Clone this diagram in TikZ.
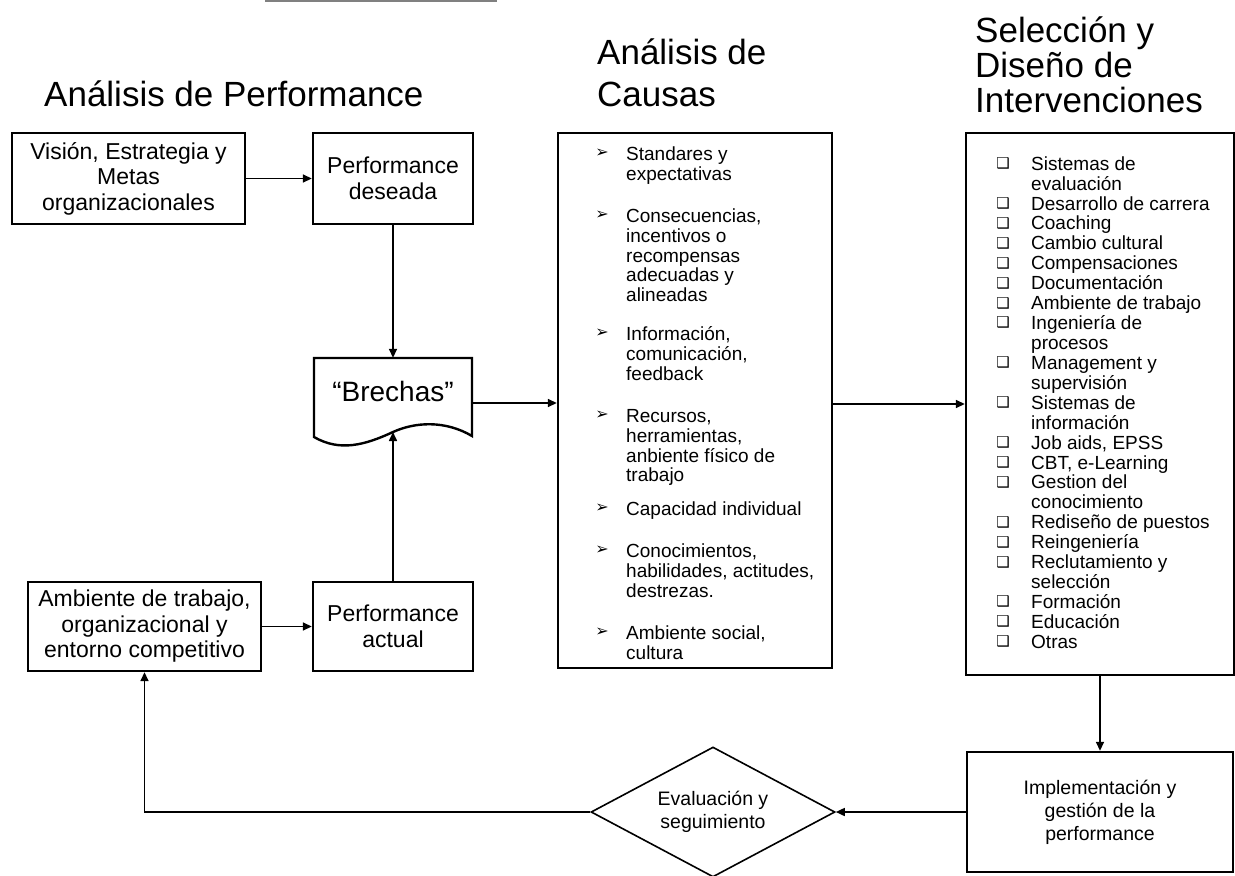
\documentclass[tikz,border=0pt]{standalone}
\usepackage{fontspec}
\setmainfont{Liberation Sans}
\newfontfamily\symfont{DejaVu Sans}
\usetikzlibrary{arrows.meta,shapes.geometric}

% struts that fix the height of the first line of a stacked text
\newcommand{\itemstrut}{\rule{0pt}{15pt}}
\newcommand{\titlestrut}{\rule{0pt}{34pt}}

\tikzset{
  box/.style={draw, line width=2.4pt, fill=white, inner sep=0pt, align=center,
              font=\fontsize{23}{25.5}\selectfont},
  title/.style={anchor=north west, align=left, inner sep=0pt,
                font=\fontsize{35}{35}\selectfont},
  conn/.style={line width=1.6pt, -{Triangle[length=9pt,width=8pt]}},
  item/.style={anchor=north west, align=left, inner sep=0pt,
               font=\fontsize{19}{19.9}\selectfont},
  arrowbullet/.style={inner sep=0pt, font=\symfont\fontsize{16}{16}\selectfont},
  checkbullet/.style={inner sep=0pt, font=\symfont\fontsize{15}{15}\selectfont},
}

\begin{document}
\begin{tikzpicture}[x=1pt,y=-1pt]
\useasboundingbox (0,0) rectangle (1235,876);

% rule along the top edge
\draw[gray, line width=1.5pt] (265,1) -- (497,1);

% column headings (first baseline = top + 34)
\node[title] (t1) at (44,72) {\titlestrut Análisis de Performance};
\node[title, font=\fontsize{35}{42}\selectfont] (t2) at (597,30) {\titlestrut Análisis de\\Causas};
\node[title] (t3) at (975,8) {\titlestrut Selección y\\Diseño de\\Intervenciones};

% performance analysis blocks
\node[box, minimum width=233pt, minimum height=91pt] (vision) at (128.5,178.5)
  {Visión, Estrategia y\\Metas\\organizacionales};
\node[box, minimum width=160pt, minimum height=91pt] (deseada) at (393,178.5)
  {Performance\\deseada};
\node[box, minimum width=233pt, minimum height=89pt] (ambiente) at (144.5,626.5)
  {Ambiente de trabajo,\\organizacional y\\entorno competitivo};
\node[box, minimum width=160pt, minimum height=89pt] (actual) at (393,626.5)
  {Performance\\actual};

% gaps: document shape with a wavy lower edge
\node[minimum width=158pt, minimum height=90pt, inner sep=0pt] (brechas) at (393,403) {};
\draw[line width=2.4pt, fill=white] (314,358) -- (472,358) -- (472,436)
  .. controls (445,420) and (415,422) .. (393,432)
  .. controls (365,445) and (340,452) .. (314,437) -- cycle;
\coordinate (wave) at (393,432);
\node[inner sep=0pt, font=\fontsize{28}{30}\selectfont] (brechastxt) at (393,391) {“Brechas”};

% causes column (y = centre of the first line)
\node[box, minimum width=274pt, minimum height=535pt] (causas) at (695,400.5) {};
\foreach \n/\y/\t in {
  c1/153/{Standares y\\expectativas},
  c2/215/{Consecuencias,\\incentivos o\\recompensas\\adecuadas y\\alineadas},
  c3/333/{Información,\\comunicación,\\feedback},
  c4/415/{Recursos,\\herramientas,\\anbiente físico de\\trabajo},
  c5/508/{Capacidad individual},
  c6/550/{Conocimientos,\\habilidades, actitudes,\\destrezas.},
  c7/632/{Ambiente social,\\cultura}} {
  \node[item] (\n) at (626,{\y-8}) {\itemstrut\t};
  \node[arrowbullet] (\n b) at (602,\y) {➢};
}

% interventions column
\node[box, minimum width=268pt, minimum height=542pt] (sel) at (1100,404) {};
\foreach \i/\t in {
  0/{Sistemas de\\evaluación},
  2/{Desarrollo de carrera},
  3/{Coaching},
  4/{Cambio cultural},
  5/{Compensaciones},
  6/{Documentación},
  7/{Ambiente de trabajo},
  8/{Ingeniería de\\procesos},
  10/{Management y\\supervisión},
  12/{Sistemas de\\información},
  14/{Job aids, EPSS},
  15/{CBT, e-Learning},
  16/{Gestion del\\conocimiento},
  18/{Rediseño de puestos},
  19/{Reingeniería},
  20/{Reclutamiento y\\selección},
  22/{Formación},
  23/{Educación},
  24/{Otras}} {
  \node[item] (s\i) at (1031,{155+19.92*\i}) {\itemstrut\t};
  \node[checkbullet] (s\i b) at (1003,{163.5+19.92*\i}) {❑};
}

% implementation and evaluation
\node[box, font=\fontsize{19.5}{23}\selectfont, minimum width=266pt, minimum height=120pt]
  (impl) at (1100,812) {Implementación y\\gestión de la\\performance};
\node[draw, diamond, line width=1.6pt, fill=white, inner sep=0pt, aspect=1.88,
      minimum width=244pt, minimum height=130pt, align=center,
      font=\fontsize{19.5}{23}\selectfont] (eval) at (713,812) {Evaluación y\\seguimiento};

% connectors
\draw[conn] (vision.east) -- (deseada.west);
\draw[conn] (deseada.south) -- (brechas.north);
\draw[conn] (actual.north) -- (wave);
\draw[conn] (ambiente.east) -- (actual.west);
\draw[conn] (brechas.east) -- (causas.west |- brechas.east);
\draw[conn] (causas.east |- sel.west) -- (sel.west);
\draw[conn] (sel.south) -- (impl.north);
\draw[conn] (impl.west) -- (eval.east);
\draw[conn] (eval.west) -| (ambiente.south);
\end{tikzpicture}
\end{document}
